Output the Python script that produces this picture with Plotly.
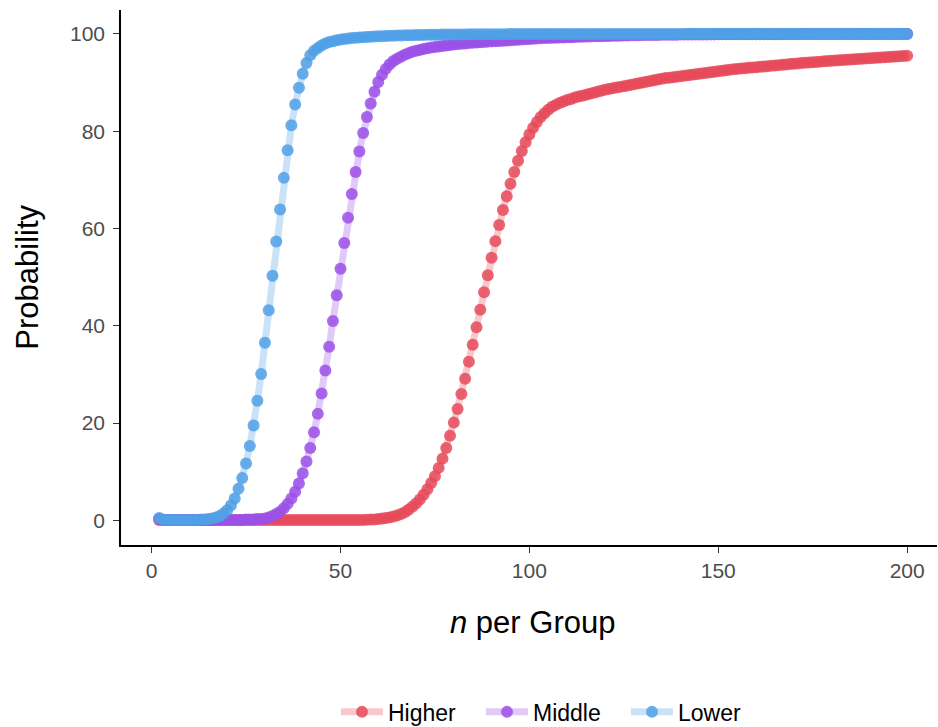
import plotly.graph_objects as go

n_per_group = list(range(2, 201))

lower = [
    0.5, 0.2, 0.1, 0.1, 0.1, 0.1, 0.1, 0.1, 0.1, 0.1,
    0.1, 0.2, 0.2, 0.3, 0.4, 0.6, 0.9, 1.4, 2.1, 3.1,
    4.5, 6.5, 8.7, 11.7, 15.3, 19.5, 24.6, 30.1, 36.5, 43.2,
    50.3, 57.3, 63.9, 70.4, 76.1, 81.2, 85.5, 88.9, 91.8, 94.0,
    95.6, 96.5, 97.1, 97.6, 98.0, 98.3, 98.5, 98.7, 98.85, 98.95,
    99.05, 99.12, 99.19, 99.25, 99.3, 99.35, 99.4, 99.45, 99.5, 99.53,
    99.56, 99.59, 99.62, 99.65, 99.67, 99.69, 99.71, 99.73, 99.75, 99.77,
    99.78, 99.8, 99.81, 99.82, 99.83, 99.84, 99.85, 99.86, 99.87, 99.88,
    99.88, 99.89, 99.9, 99.9, 99.91, 99.91, 99.92, 99.92, 99.93, 99.93,
    99.94, 99.94, 99.94, 99.95, 99.95, 99.95, 99.96, 99.96, 99.96, 99.96,
    99.97, 99.97, 99.97, 99.97, 99.97, 99.97, 99.97, 99.97, 99.97, 99.97,
    99.98, 99.98, 99.98, 99.98, 99.98, 99.98, 99.98, 99.98, 99.98, 99.98,
    99.99, 99.99, 99.99, 99.99, 99.99, 99.99, 99.99, 99.99, 99.99, 99.99,
    99.99, 99.99, 99.99, 99.99, 99.99, 99.99, 99.99, 99.99, 99.99, 99.99,
    100, 100, 100, 100, 100, 100, 100, 100, 100, 100,
    100, 100, 100, 100, 100, 100, 100, 100, 100, 100,
    100, 100, 100, 100, 100, 100, 100, 100, 100, 100,
    100, 100, 100, 100, 100, 100, 100, 100, 100, 100,
    100, 100, 100, 100, 100, 100, 100, 100, 100, 100,
    100, 100, 100, 100, 100, 100, 100, 100, 100,
]

middle = [
    0.3, 0.1, 0.1, 0.1, 0.1, 0.1, 0.1, 0.1, 0.1, 0.1,
    0.1, 0.1, 0.1, 0.1, 0.1, 0.1, 0.1, 0.1, 0.1, 0.1,
    0.1, 0.1, 0.1, 0.2, 0.2, 0.2, 0.3, 0.3, 0.4, 0.6,
    0.9, 1.3, 1.8, 2.5, 3.4, 4.5, 5.9, 7.6, 9.7, 12.1,
    14.9, 18.1, 21.9, 26.1, 30.8, 35.7, 41.0, 46.3, 51.7, 57.0,
    62.2, 67.1, 71.6, 75.8, 79.6, 82.9, 85.7, 88.1, 90.1, 91.6,
    92.8, 93.7, 94.4, 94.9, 95.3, 95.7, 96.0, 96.3, 96.5, 96.7,
    96.9, 97.05, 97.2, 97.3, 97.4, 97.5, 97.6, 97.7, 97.8, 97.9,
    97.95, 98.0, 98.1, 98.15, 98.2, 98.25, 98.3, 98.4, 98.45, 98.5,
    98.55, 98.6, 98.65, 98.7, 98.75, 98.8, 98.85, 98.9, 98.95, 99.0,
    99.05, 99.1, 99.12, 99.15, 99.18, 99.2, 99.23, 99.26, 99.3, 99.32,
    99.35, 99.38, 99.4, 99.43, 99.45, 99.48, 99.5, 99.52, 99.55, 99.57,
    99.59, 99.61, 99.63, 99.65, 99.67, 99.69, 99.71, 99.72, 99.74, 99.75,
    99.76, 99.77, 99.78, 99.79, 99.8, 99.81, 99.82, 99.83, 99.84, 99.85,
    99.86, 99.86, 99.87, 99.87, 99.88, 99.88, 99.89, 99.89, 99.9, 99.9,
    99.91, 99.91, 99.91, 99.91, 99.91, 99.92, 99.92, 99.92, 99.92, 99.92,
    99.93, 99.93, 99.93, 99.93, 99.93, 99.94, 99.94, 99.94, 99.94, 99.94,
    99.95, 99.95, 99.95, 99.95, 99.95, 99.95, 99.95, 99.95, 99.95, 99.95,
    99.96, 99.96, 99.96, 99.96, 99.96, 99.96, 99.96, 99.96, 99.96, 99.96,
    99.97, 99.97, 99.97, 99.97, 99.97, 99.97, 99.97, 99.97, 99.97,
]

higher = [
    0.1, 0.1, 0.1, 0.1, 0.1, 0.1, 0.1, 0.1, 0.1, 0.1,
    0.1, 0.1, 0.1, 0.1, 0.1, 0.1, 0.1, 0.1, 0.1, 0.1,
    0.1, 0.1, 0.1, 0.1, 0.1, 0.1, 0.1, 0.1, 0.1, 0.1,
    0.1, 0.1, 0.1, 0.1, 0.1, 0.1, 0.1, 0.1, 0.1, 0.1,
    0.1, 0.1, 0.1, 0.1, 0.1, 0.1, 0.1, 0.1, 0.1, 0.1,
    0.1, 0.1, 0.1, 0.1, 0.1, 0.15, 0.2, 0.2, 0.3, 0.4,
    0.5, 0.6, 0.8, 1.0, 1.3, 1.7, 2.2, 2.8, 3.5, 4.3,
    5.3, 6.4, 7.7, 9.1, 10.8, 12.7, 14.9, 17.4, 20.1, 22.9,
    26.0, 29.1, 32.6, 36.1, 39.7, 43.3, 46.9, 50.4, 54.0, 57.4,
    60.7, 63.8, 66.6, 69.2, 71.6, 73.9, 75.9, 77.7, 79.3, 80.7,
    81.9, 82.9, 83.7, 84.4, 85.0, 85.4, 85.8, 86.1, 86.4, 86.6,
    86.9, 87.1, 87.3, 87.5, 87.7, 87.9, 88.1, 88.3, 88.5, 88.65,
    88.8, 88.95, 89.1, 89.25, 89.4, 89.55, 89.7, 89.85, 90.0, 90.15,
    90.3, 90.45, 90.6, 90.75, 90.9, 91.0, 91.1, 91.2, 91.3, 91.4,
    91.5, 91.6, 91.7, 91.8, 91.9, 92.0, 92.1, 92.2, 92.3, 92.4,
    92.5, 92.6, 92.7, 92.8, 92.87, 92.94, 93.01, 93.08, 93.15, 93.22,
    93.29, 93.36, 93.43, 93.5, 93.57, 93.64, 93.71, 93.78, 93.85, 93.92,
    93.99, 94.05, 94.11, 94.17, 94.23, 94.29, 94.35, 94.41, 94.47, 94.53,
    94.58, 94.63, 94.68, 94.73, 94.78, 94.83, 94.88, 94.93, 94.98, 95.03,
    95.08, 95.13, 95.18, 95.23, 95.28, 95.33, 95.38, 95.43, 95.48,
]

series_names = ["Higher", "Middle", "Lower"]
series_values = [higher, middle, lower]
series_rgb = [(230, 75, 90), (155, 80, 232), (80, 160, 230)]

x_ticks = [0, 50, 100, 150, 200]
y_ticks = [0, 20, 40, 60, 80, 100]

FONT = "Liberation Sans, Arial, sans-serif"

fig = go.Figure()
for name, vals, (r, g, b) in zip(series_names, series_values, series_rgb):
    fig.add_trace(go.Scatter(
        x=n_per_group, y=vals, name=name, mode="lines+markers",
        line=dict(color=f"rgba({r},{g},{b},0.3)", width=7),
        marker=dict(color=f"rgba({r},{g},{b},0.85)", size=12, line=dict(width=0)),
    ))

fig.update_layout(
    width=938, height=727,
    margin=dict(l=121, r=1, t=10, b=182, autoexpand=False),
    paper_bgcolor="white", plot_bgcolor="white",
    font=dict(family=FONT, color="black"),
    showlegend=True,
    legend=dict(orientation="h", x=0.53, xanchor="center", y=-0.312, yanchor="middle",
                font=dict(size=23, color="black"), itemwidth=42,
                entrywidth=88, entrywidthmode="pixels",
                bgcolor="rgba(0,0,0,0)"),
    xaxis=dict(range=[-8.1, 207.9], tickvals=x_ticks, ticks="outside", ticklen=6,
               tickwidth=1.2, tickcolor="#333333", showline=True, linecolor="black",
               linewidth=1.6, showgrid=False, zeroline=False,
               tickfont=dict(size=21, color="#4D4D4D")),
    yaxis=dict(range=[-5.05, 104.9], tickvals=y_ticks, ticks="outside", ticklen=6,
               tickwidth=1.2, tickcolor="#333333", showline=True, linecolor="black",
               linewidth=1.6, showgrid=False, zeroline=False, ticklabelstandoff=4,
               tickfont=dict(size=21, color="#4D4D4D")),
    annotations=[
        dict(text="<i>n</i> per Group", xref="paper", yref="paper", x=0.504, y=-0.144,
             xanchor="center", yanchor="middle", showarrow=False,
             font=dict(size=31, color="black")),
        dict(text="Probability", xref="paper", yref="paper", x=-0.115, y=0.5,
             xanchor="center", yanchor="middle", textangle=-90, showarrow=False,
             font=dict(size=31, color="black")),
    ],
)

fig.write_html("out.html")
